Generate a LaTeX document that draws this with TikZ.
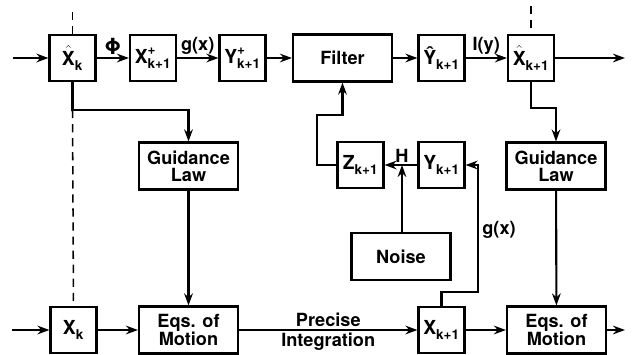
\documentclass[tikz,border=0pt]{standalone}
\usepackage{amsmath}
\usepackage{fontspec}
\setmainfont{TeX Gyre Heros}
\usetikzlibrary{arrows.meta}
\tikzset{
  bx/.style={draw,line width=1.8pt,minimum width=1.38cm,minimum height=1.38cm,inner sep=1pt,font=\bfseries\fontsize{16.5}{14.5}\selectfont},
  wbx/.style={bx,minimum width=2.97cm,minimum height=1.41cm,align=center,font=\bfseries\fontsize{15.5}{14.5}\selectfont},
  ar/.style={line width=1.8pt,-{Stealth[length=3.6mm,width=2.6mm]}},
  tl/.style={line width=1.3pt,dash pattern=on 7pt off 5pt},
  lb/.style={font=\bfseries\fontsize{15.5}{14.5}\selectfont,inner sep=2pt}
}
\newcommand{\vx}[3]{$#1^{\text{#2}}_{\text{#3}}$}

\begin{document}
\begin{tikzpicture}[x=0.03cm,y=-0.03cm]
\useasboundingbox (0,0) rectangle (632,354);
% upper row: estimates
\node[bx] (xhk) at (72.5,58) {\vx{\hat{\text{X}}}{}{k}};
\node[bx] (xp) at (153,58) {\vx{\text{X}}{+}{k+1}};
\node[bx] (yp) at (242.5,58) {\vx{\text{Y}}{+}{k+1}};
\node[wbx] (filt) at (342.5,58) {Filter};
\node[bx] (yh) at (441.5,58) {\vx{\text{Ŷ}}{}{k+1}};
\node[bx] (xh1) at (531,58) {\vx{\hat{\text{X}}}{}{k+1}};
% middle row
\node[wbx] (gl1) at (188.5,166) {Guidance\\Law};
\node[bx] (z) at (360.5,165) {\vx{\text{Z}}{}{k+1}};
\node[bx] (y1) at (441.5,165) {\vx{\text{Y}}{}{k+1}};
\node[wbx] (gl2) at (556,166) {Guidance\\Law};
\node[wbx] (noise) at (401,256.5) {Noise};
% lower row: true motion
\node[bx] (xk) at (73.5,330) {\vx{\text{X}}{}{k}};
\node[wbx] (eq1) at (188.5,330) {Eqs. of\\Motion};
\node[bx] (x1) at (441.5,330) {\vx{\text{X}}{}{k+1}};
\node[wbx] (eq2) at (556.5,330) {Eqs. of\\Motion};
\coordinate (in1) at (13,58); \coordinate (out1) at (625,58);
\coordinate (in2) at (12,330); \coordinate (out2) at (625,330);
\coordinate (c1) at (72.5,110); \coordinate (c2) at (531,108);
\coordinate (t1) at (72.5,12); \coordinate (t2) at (531,6);
\coordinate (c3) at (317,115); \coordinate (c4) at (478,292);
\coordinate (jn) at (402,165);
\draw[ar] (in1) -- (xhk);
\draw[ar] (xhk) -- node[lb,above,font=\bfseries\fontsize{19}{19}\selectfont] (phi) {Φ} (xp);
\draw[ar] (xp) -- node[lb,above] (gx1) {g(x)} (yp);
\draw[ar] (yp) -- (filt);
\draw[ar] (filt) -- (yh);
\draw[ar] (yh) -- node[lb,above] (iy) {I(y)} (xh1);
\draw[ar] (xh1) -- (out1);
\draw[tl] (t1) -- (xhk.north); \draw[tl] (c1) -- (xk.north);
\draw[tl] (t2) -- (xh1.north);
\draw[ar] (xhk.south) -- (c1) -| (gl1.north);
\draw[ar] (xh1.south) -- (c2) -| (gl2.north);
\draw[ar] (gl1) -- (eq1); \draw[ar] (gl2) -- (eq2);
\draw[ar] (y1) -- (z); \node[lb,above] (hl) at (jn) {H};
\draw[ar] (noise.north -| jn) -- (jn);
\draw[ar] (z.west) -| (c3) -| (filt.south);
\draw[ar] (x1.north) |- (c4) |- (y1.east);
\node[lb] (gx2) at (499,230) {g(x)};
\draw[ar] (in2) -- (xk);
\draw[ar] (xk) -- (eq1);
\draw[ar] (eq1) -- node[lb,above] (pr) {Precise} node[lb,below] (ig) {Integration} (x1);
\draw[ar] (x1) -- (eq2);
\draw[ar] (eq2) -- (out2);
\end{tikzpicture}
\end{document}
